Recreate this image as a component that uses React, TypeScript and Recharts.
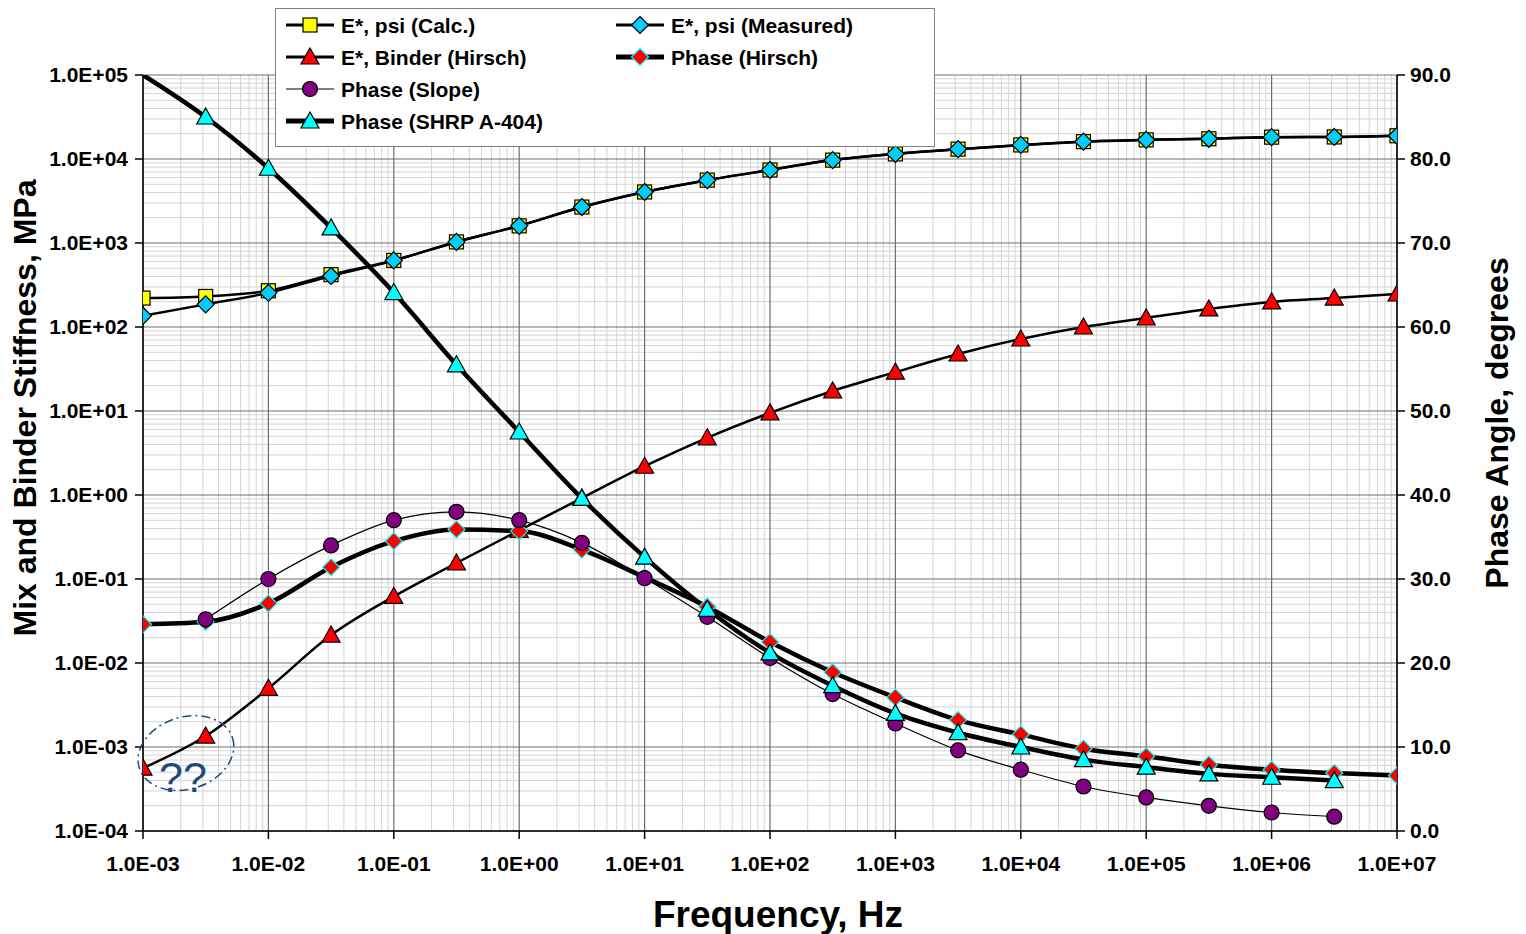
import React from 'react';
import { ComposedChart, Line, XAxis, YAxis, CartesianGrid, ReferenceDot } from 'recharts';

// frequency, Hz (half-decade steps)
const freq = [
  0.001, 0.00316, 0.01, 0.0316, 0.1, 0.316, 1, 3.16, 10, 31.6, 100, 316, 1000, 3160, 10000, 31600,
  100000, 316000, 1000000, 3160000, 10000000,
];

// left axis: stiffness, MPa
const eCalc = [
  221, 231, 270, 420, 620, 1030, 1600, 2680, 4050, 5600, 7400, 9700, 11500, 13100, 14700, 16100,
  16900, 17400, 18200, 18300, 18900,
];
const eMeasured = [
  136, 186, 255, 405, 620, 1030, 1600, 2680, 4050, 5600, 7400, 9700, 11500, 13100, 14700, 16100,
  16900, 17400, 18200, 18300, 18900,
];
const eBinder = [
  0.00056, 0.00135, 0.005, 0.0215, 0.062, 0.155, 0.38, 0.92, 2.2, 4.8, 9.5, 17.3, 29, 47.7, 72,
  100, 128, 164, 199, 221, 247,
];

// right axis: phase angle, degrees
const phaseSlope = [
  null, 25.2, 30.0, 34.0, 37.0, 38.0, 37.0, 34.3, 30.1, 25.5, 20.6, 16.3, 12.8, 9.6, 7.3, 5.3, 4.0,
  3.0, 2.2, 1.7, null,
];
const phaseHirsch = [
  24.6, 24.9, 27.1, 31.4, 34.5, 35.9, 35.7, 33.5, 30.2, 26.7, 22.5, 18.9, 15.9, 13.2, 11.5, 9.8,
  8.9, 7.9, 7.3, 6.9, 6.6,
];
const phaseShrp = [
  90, 85.0, 78.9, 71.8, 64.1, 55.5, 47.5, 39.6, 32.6, 26.4, 21.2, 17.3, 14.0, 11.7, 10.0, 8.5, 7.6,
  6.8, 6.4, 6.0, null,
];

const xTicks = [1e-3, 1e-2, 1e-1, 1, 10, 100, 1e3, 1e4, 1e5, 1e6, 1e7];
const leftTicks = [1e-4, 1e-3, 1e-2, 1e-1, 1, 10, 100, 1e3, 1e4, 1e5];
const rightTicks = [0, 10, 20, 30, 40, 50, 60, 70, 80, 90];

const data = freq.map((f, i) => ({
  f,
  eCalc: eCalc[i],
  eMeasured: eMeasured[i],
  eBinder: eBinder[i],
  phaseSlope: phaseSlope[i],
  phaseHirsch: phaseHirsch[i],
  phaseShrp: phaseShrp[i],
}));

const FONT = '"Liberation Sans", Arial, Helvetica, sans-serif';
const W = 1526;
const H = 934;

// 2..9 within each decade, for the light grid
function minorLog(fromExp: number, toExp: number) {
  const out: number[] = [];
  for (let e = fromExp; e < toExp; e++) {
    for (let m = 2; m <= 9; m++) out.push(m * Math.pow(10, e));
  }
  return out;
}
const xMinor = minorLog(-3, 7);
const yMinor = minorLog(-4, 5);

function sci(v: number) {
  const [m, e] = v.toExponential(1).split('e');
  const sign = e[0] === '-' ? '-' : '+';
  const digits = e.replace(/[+-]/, '').padStart(2, '0');
  return `${m}E${sign}${digits}`;
}

function vGen(vals: number[]) {
  return ({ xAxis, offset }: any) =>
    vals.map((v) =>
      xAxis && typeof xAxis.scale === 'function'
        ? xAxis.scale(v)
        : offset.left + ((Math.log10(v) + 3) / 10) * offset.width,
    );
}
function hGen(vals: number[]) {
  return ({ yAxis, offset }: any) =>
    vals.map((v) =>
      yAxis && typeof yAxis.scale === 'function'
        ? yAxis.scale(v)
        : offset.top + ((5 - Math.log10(v)) / 9) * offset.height,
    );
}

type Kind = 'square' | 'diamond' | 'triangle' | 'circle';

function Marker({ kind, cx, cy, fill, stroke }: { kind: Kind; cx: number; cy: number; fill: string; stroke: string }) {
  if (kind === 'square') {
    return <rect x={cx - 7} y={cy - 7} width={14} height={14} fill={fill} stroke={stroke} strokeWidth={1.2} />;
  }
  if (kind === 'diamond') {
    return (
      <polygon
        points={`${cx},${cy - 8.5} ${cx + 8.5},${cy} ${cx},${cy + 8.5} ${cx - 8.5},${cy}`}
        fill={fill}
        stroke={stroke}
        strokeWidth={1.2}
      />
    );
  }
  if (kind === 'triangle') {
    return (
      <polygon
        points={`${cx},${cy - 9} ${cx + 9},${cy + 7} ${cx - 9},${cy + 7}`}
        fill={fill}
        stroke={stroke}
        strokeWidth={1.2}
      />
    );
  }
  return <circle cx={cx} cy={cy} r={7.5} fill={fill} stroke={stroke} strokeWidth={1.2} />;
}

function makeDot(kind: Kind, fill: string, stroke: string, skip: number[] = []) {
  return (props: any) => {
    const { cx, cy, index, value } = props;
    if (cx == null || cy == null || value == null || skip.includes(index)) {
      return <g key={`d${kind}${index}`} />;
    }
    return (
      <g key={`d${kind}${index}`}>
        <Marker kind={kind} cx={cx} cy={cy} fill={fill} stroke={stroke} />
      </g>
    );
  };
}

const tickStyle = { fontSize: 21, fontWeight: 'bold' as const, fill: '#000', fontFamily: FONT };

const legendItems = [
  { label: 'E*, psi (Calc.)', col: 0, row: 0, lw: 3, kind: 'square' as Kind, fill: '#ffff00', stroke: '#000' },
  { label: 'E*, Binder (Hirsch)', col: 0, row: 1, lw: 3, kind: 'triangle' as Kind, fill: '#ff0000', stroke: '#000' },
  { label: 'Phase (Slope)', col: 0, row: 2, lw: 1, kind: 'circle' as Kind, fill: '#800080', stroke: '#000' },
  { label: 'Phase (SHRP A-404)', col: 0, row: 3, lw: 5, kind: 'triangle' as Kind, fill: '#00ffff', stroke: '#000' },
  { label: 'E*, psi (Measured)', col: 1, row: 0, lw: 3, kind: 'diamond' as Kind, fill: '#00ccff', stroke: '#000' },
  { label: 'Phase (Hirsch)', col: 1, row: 1, lw: 5, kind: 'diamond' as Kind, fill: '#ff0000', stroke: '#00ffff' },
];

function ChartLegend() {
  return (
    <div
      style={{
        position: 'absolute',
        left: 275,
        top: 8,
        width: 658,
        height: 137,
        background: '#fff',
        border: '1px solid #808080',
      }}
    >
      <svg width={658} height={137}>
        {legendItems.map((it) => {
          const x0 = it.col === 0 ? 10 : 340;
          const y = 16 + it.row * 32;
          return (
            <g key={it.label}>
              <line x1={x0} x2={x0 + 48} y1={y} y2={y} stroke="#000" strokeWidth={it.lw} />
              <Marker kind={it.kind} cx={x0 + 24} cy={y} fill={it.fill} stroke={it.stroke} />
              <text
                x={x0 + 55}
                y={y}
                dominantBaseline="central"
                fontFamily={FONT}
                fontWeight="bold"
                fontSize={21}
                fill="#000"
              >
                {it.label}
              </text>
            </g>
          );
        })}
      </svg>
    </div>
  );
}

function QuestionMark(props: any) {
  const { cx, cy } = props;
  if (cx == null || cy == null) return <g />;
  return (
    <g>
      <ellipse
        cx={cx}
        cy={cy + 3}
        rx={49}
        ry={36}
        transform={`rotate(-18 ${cx} ${cy + 3})`}
        fill="none"
        stroke="#1f497d"
        strokeWidth={1.5}
        strokeDasharray="9 4 2 4"
      />
      <text
        x={cx - 3}
        y={cy + 27}
        textAnchor="middle"
        dominantBaseline="central"
        fontFamily={FONT}
        fontSize={43}
        fill="#1f497d"
      >
        ??
      </text>
    </g>
  );
}

export default function App() {
  return (
    <div style={{ position: 'absolute', left: 0, top: 0, width: W, height: H, background: '#fff' }}>
      <ComposedChart
        width={W}
        height={H}
        data={data}
        margin={{ top: 75, right: 29, bottom: 43, left: 13 }}
      >
        <CartesianGrid
          yAxisId="left"
          stroke="#d4d4d4"
          strokeWidth={1}
          fill="none"
          verticalCoordinatesGenerator={vGen(xMinor)}
          horizontalCoordinatesGenerator={hGen(yMinor)}
        />
        <CartesianGrid
          yAxisId="left"
          stroke="#6e6e6e"
          strokeWidth={1.2}
          fill="none"
          verticalCoordinatesGenerator={vGen(xTicks)}
          horizontalCoordinatesGenerator={hGen(leftTicks)}
        />
        <XAxis
          dataKey="f"
          type="number"
          scale="log"
          domain={[1e-3, 1e7]}
          allowDataOverflow
          ticks={xTicks}
          interval={0}
          tickFormatter={sci}
          tick={tickStyle}
          tickSize={8}
          tickMargin={17}
          height={60}
          axisLine={{ stroke: '#000', strokeWidth: 1.5 }}
          tickLine={{ stroke: '#000', strokeWidth: 1.5 }}
          label={(p: any) => {
            const vb = p.viewBox || { x: 143, y: 831, width: 1254 };
            return (
              <text
                x={vb.x + vb.width / 2 + 8}
                y={vb.y + 83}
                textAnchor="middle"
                dominantBaseline="central"
                fontFamily={FONT}
                fontWeight="bold"
                fontSize={37}
                fill="#000"
              >
                Frequency, Hz
              </text>
            );
          }}
        />
        <YAxis
          yAxisId="left"
          type="number"
          scale="log"
          domain={[1e-4, 1e5]}
          allowDataOverflow
          ticks={leftTicks}
          interval={0}
          tickFormatter={sci}
          tick={tickStyle}
          tickSize={8}
          tickMargin={7}
          width={130}
          axisLine={{ stroke: '#000', strokeWidth: 1.5 }}
          tickLine={{ stroke: '#000', strokeWidth: 1.5 }}
          label={(p: any) => {
            const vb = p.viewBox || { x: 13, y: 75, height: 756 };
            const x = vb.x + 12;
            const y = vb.y + vb.height / 2 - 45;
            return (
              <text
                x={x}
                y={y}
                transform={`rotate(-90 ${x} ${y})`}
                textAnchor="middle"
                dominantBaseline="central"
                fontFamily={FONT}
                fontWeight="bold"
                fontSize={32}
                fill="#000"
              >
                Mix and Binder Stiffness, MPa
              </text>
            );
          }}
        />
        <YAxis
          yAxisId="right"
          orientation="right"
          type="number"
          domain={[0, 90]}
          allowDataOverflow
          ticks={rightTicks}
          interval={0}
          tickFormatter={(v: number) => v.toFixed(1)}
          tick={tickStyle}
          tickSize={8}
          tickMargin={5}
          width={100}
          axisLine={{ stroke: '#000', strokeWidth: 1.5 }}
          tickLine={{ stroke: '#000', strokeWidth: 1.5 }}
          label={(p: any) => {
            const vb = p.viewBox || { x: 1397, y: 75, height: 756 };
            const x = vb.x + 100;
            const y = vb.y + vb.height / 2 - 30;
            return (
              <text
                x={x}
                y={y}
                transform={`rotate(-90 ${x} ${y})`}
                textAnchor="middle"
                dominantBaseline="central"
                fontFamily={FONT}
                fontWeight="bold"
                fontSize={32}
                fill="#000"
              >
                Phase Angle, degrees
              </text>
            );
          }}
        />

        <Line
          yAxisId="left"
          dataKey="eCalc"
          type="monotone"
          stroke="#000"
          strokeWidth={2.5}
          dot={makeDot('square', '#ffff00', '#000')}
          activeDot={false}
          isAnimationActive={false}
        />
        <Line
          yAxisId="left"
          dataKey="eMeasured"
          type="monotone"
          stroke="#000"
          strokeWidth={2.5}
          dot={makeDot('diamond', '#00ccff', '#000')}
          activeDot={false}
          isAnimationActive={false}
        />
        <Line
          yAxisId="left"
          dataKey="eBinder"
          type="monotone"
          stroke="#000"
          strokeWidth={2.5}
          dot={makeDot('triangle', '#ff0000', '#000')}
          activeDot={false}
          isAnimationActive={false}
        />
        <Line
          yAxisId="right"
          dataKey="phaseHirsch"
          type="monotone"
          stroke="#000"
          strokeWidth={4.5}
          dot={makeDot('diamond', '#ff0000', '#00ffff')}
          activeDot={false}
          isAnimationActive={false}
        />
        <Line
          yAxisId="right"
          dataKey="phaseSlope"
          type="monotone"
          stroke="#000"
          strokeWidth={1.2}
          dot={makeDot('circle', '#800080', '#000')}
          activeDot={false}
          isAnimationActive={false}
        />
        <Line
          yAxisId="right"
          dataKey="phaseShrp"
          type="monotone"
          stroke="#000"
          strokeWidth={4.5}
          dot={makeDot('triangle', '#00ffff', '#000', [0])}
          activeDot={false}
          isAnimationActive={false}
        />
        <ReferenceDot
          yAxisId="left"
          x={0.0022}
          y={0.00092}
          r={0}
          ifOverflow="visible"
          shape={QuestionMark}
        />
      </ComposedChart>
      <ChartLegend />
    </div>
  );
}
